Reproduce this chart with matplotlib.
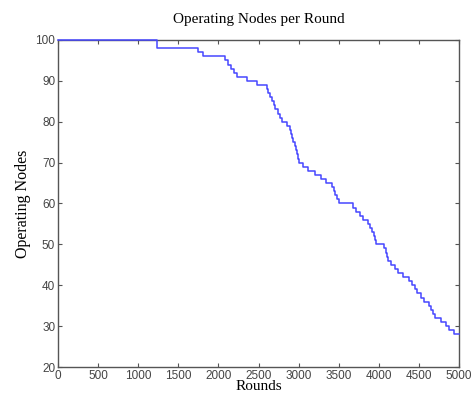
import matplotlib
matplotlib.use('Agg')
import matplotlib.pyplot as plt

# round at which the node count changes, and the count from then on
rounds = [0, 1230, 1750, 1810, 2080, 2120, 2160, 2190, 2230, 2360, 2480,
          2600, 2620, 2640, 2670, 2690, 2710, 2740, 2770, 2790, 2850, 2890,
          2910, 2920, 2935, 2950, 2965, 2980, 2995, 3010, 3060, 3120, 3200,
          3280, 3340, 3420, 3440, 3460, 3480, 3500, 3680, 3720, 3760, 3800,
          3860, 3890, 3920, 3935, 3950, 3965, 4060, 4090, 4100, 4110, 4150,
          4200, 4240, 4300, 4380, 4420, 4450, 4480, 4520, 4560, 4620, 4650,
          4680, 4700, 4780, 4840, 4880, 4940, 5000]
nodes = [100, 98, 97, 96, 95, 94, 93, 92, 91, 90, 89,
         88, 87, 86, 85, 84, 83, 82, 81, 80, 79, 78,
         77, 76, 75, 74, 73, 72, 71, 70, 69, 68, 67,
         66, 65, 64, 63, 62, 61, 60, 59, 58, 57, 56,
         55, 54, 53, 52, 51, 50, 49, 48, 47, 46, 45,
         44, 43, 42, 41, 40, 39, 38, 37, 36, 35, 34,
         33, 32, 31, 30, 29, 28, 28]

xticks = [0, 500, 1000, 1500, 2000, 2500, 3000, 3500, 4000, 4500, 5000]
yticks = [20, 30, 40, 50, 60, 70, 80, 90, 100]

fig = plt.figure(figsize=(4.73, 3.97), dpi=100)
ax = fig.add_axes([58 / 473, 30 / 397, 401 / 473, 327 / 397])

ax.plot(rounds, nodes, drawstyle='steps-post', color='#4646ff', linewidth=1.1,
        clip_on=False, zorder=5)

ax.set_xlim(0, 5000)
ax.set_ylim(20, 100)
ax.set_xticks(xticks)
ax.set_yticks(yticks)
ax.tick_params(direction='in', top=True, right=True, length=3, width=0.8,
               colors='#555555', labelsize=8.5, labelcolor='#444444', pad=2)
for lab in ax.get_xticklabels() + ax.get_yticklabels():
    lab.set_family('Liberation Sans')
for sp in ax.spines.values():
    sp.set_color('#555555')
    sp.set_linewidth(1.0)

ax.set_title('Operating Nodes per Round', family='Liberation Serif', fontsize=11, pad=12)
ax.set_xlabel('Rounds', family='Liberation Serif', fontsize=11, labelpad=-1)
ax.set_ylabel('Operating Nodes', family='Liberation Serif', fontsize=11.5, labelpad=3)

fig.savefig('out.png', dpi=100)
